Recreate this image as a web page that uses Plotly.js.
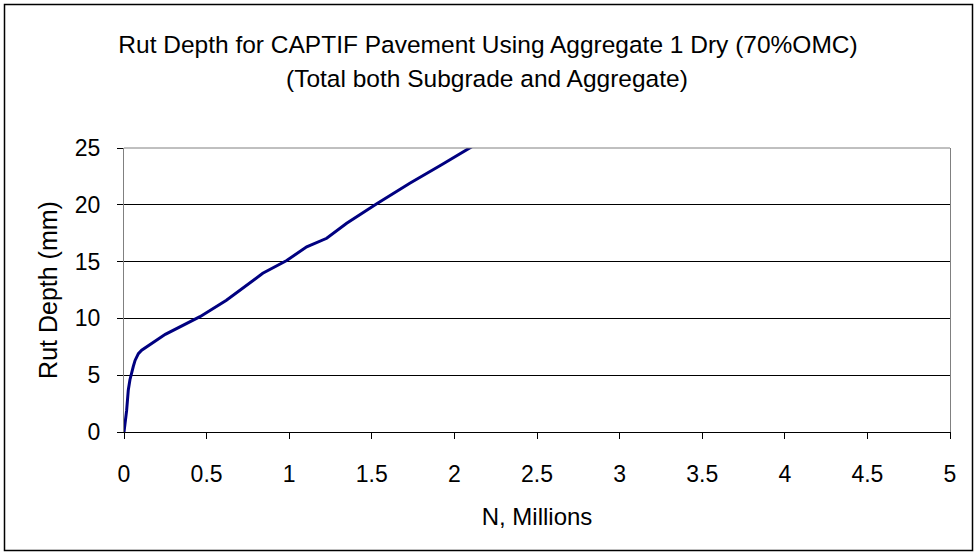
<!DOCTYPE html>
<html>
<head>
<meta charset="utf-8">
<script src="https://cdn.plot.ly/plotly-3.0.1.min.js"></script>
<style>html,body{margin:0;padding:0;background:#fff;}#chart{width:976px;height:554px;}</style>
</head>
<body>
<div id="chart"></div>
<script>
const nMillions = [0, 0.016, 0.026, 0.036, 0.056, 0.067, 0.087, 0.107, 0.25, 0.46, 0.62, 0.84, 0.985, 1.106, 1.227, 1.348, 1.53, 1.73, 1.92, 2.094, 2.15];
const rutDepth  = [0, 1.9, 3.7, 4.6, 5.75, 6.3, 6.9, 7.2, 8.6, 10.15, 11.6, 13.97, 15.1, 16.3, 17.05, 18.37, 20.1, 21.9, 23.5, 25.0, 25.5];
const xTicks = [0, 0.5, 1, 1.5, 2, 2.5, 3, 3.5, 4, 4.5, 5];
const yTicks = [0, 5, 10, 15, 20, 25];

const L = 124, R = 950, T = 148, B = 432, W = 976, H = 554;
const pw = R - L, ph = B - T;
const px = v => (v - L) / pw;
const py = v => (B - v) / ph;

const font = "Liberation Sans, Arial, sans-serif";

Plotly.newPlot('chart', [{
  x: nMillions, y: rutDepth, type: 'scatter', mode: 'lines',
  line: {color: '#000080', width: 3}, hoverinfo: 'skip'
}], {
  width: W, height: H,
  margin: {l: L, r: W - R, t: T, b: H - B, pad: 0},
  paper_bgcolor: '#fff', plot_bgcolor: '#fff',
  showlegend: false,
  font: {family: font, color: '#000', size: 22},
  title: {text: 'Rut Depth for CAPTIF Pavement Using Aggregate 1 Dry (70%OMC)', font: {family: font, size: 24.5, color: '#000'},
          x: 0.5, xanchor: 'center', y: 1 - 44 / H, yanchor: 'middle', yref: 'container'},
  annotations: [{
    text: '(Total both Subgrade and Aggregate)', xref: 'paper', yref: 'paper',
    x: px(487), y: py(78), xanchor: 'center', yanchor: 'middle', showarrow: false,
    font: {family: font, size: 24.5, color: '#000'}
  }],
  xaxis: {
    range: [0, 5], tickvals: xTicks, ticktext: xTicks.map(String),
    showgrid: false, zeroline: false, showline: true, linecolor: '#000', linewidth: 1,
    ticks: 'outside', ticklen: 6, tickcolor: '#000', tickfont: {size: 23, family: font},
    ticklabelstandoff: 15,
    title: {text: 'N, Millions', font: {size: 24, family: font}, standoff: 22}
  },
  yaxis: {
    range: [0, 25], tickvals: yTicks, ticktext: yTicks.map(String),
    showgrid: true, gridcolor: '#000', gridwidth: 1, zeroline: false,
    showline: true, linecolor: '#808080', linewidth: 1, mirror: true,
    ticks: 'outside', ticklen: 6, tickcolor: '#000', tickfont: {size: 23, family: font},
    ticklabelstandoff: 12,
    title: {text: 'Rut Depth (mm)', font: {size: 25, family: font}, standoff: 10}
  },
  shapes: [
    {type: 'line', xref: 'paper', yref: 'paper', x0: 0, x1: 1, y0: 1, y1: 1, line: {color: '#808080', width: 1}, layer: 'above'},
    {type: 'rect', xref: 'paper', yref: 'paper', x0: px(4.5), x1: px(972.5), y0: py(4.5), y1: py(550.5), line: {color: '#000', width: 1.5}, layer: 'above'}
  ]
}, {displayModeBar: false, staticPlot: true});
</script>
</body>
</html>
